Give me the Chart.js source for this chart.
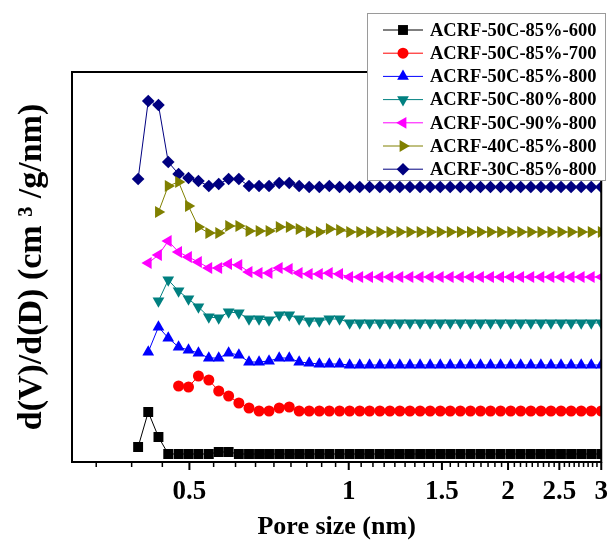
<!DOCTYPE html>
<html>
<head>
<meta charset="utf-8">
<script src="https://cdn.jsdelivr.net/npm/chart.js@4.4.1/dist/chart.umd.min.js"></script>
<style>
  html, body { margin: 0; padding: 0; background: #fff; }
  #caixa { width: 614px; height: 543px; }
</style>
</head>
<body>
<div id="caixa"><canvas id="grafico"></canvas></div>
<script>
const fonte = "'Liberation Serif', 'Times New Roman', serif";

// eixo x (nm), passos iguais em escala log
const tamanhoPoro = [0.400, 0.418, 0.437, 0.456, 0.477, 0.498, 0.520, 0.544, 0.568, 0.593,
  0.620, 0.648, 0.677, 0.707, 0.739, 0.772, 0.806, 0.842, 0.880, 0.919,
  0.961, 1.004, 1.049, 1.095, 1.145, 1.196, 1.249, 1.305, 1.364, 1.425,
  1.489, 1.555, 1.625, 1.698, 1.774, 1.853, 1.936, 2.023, 2.113, 2.208,
  2.307, 2.410, 2.518, 2.631, 2.749, 2.872, 3.000];

// curvas deslocadas na vertical (unidade arbitraria)
const amostra600 = [15, 50, 25, 8, 8, 8, 8, 8, 10, 10,
  8, 8, 8, 8, 8, 8, 8, 8, 8, 8,
  8, 8, 8, 8, 8, 8, 8, 8, 8, 8,
  8, 8, 8, 8, 8, 8, 8, 8, 8, 8,
  8, 8, 8, 8, 8, 8, 8];
const amostra700 = [null, null, null, null, 76, 75, 86, 82, 71, 66,
  59, 54, 51, 51, 54, 55, 51, 51, 51, 51,
  51, 51, 51, 51, 51, 51, 51, 51, 51, 51,
  51, 51, 51, 51, 51, 51, 51, 51, 51, 51,
  51, 51, 51, 51, 51, 51, 51];
const amostra800 = [null, 110, 135, 124, 115, 112, 109, 104, 104, 109,
  107, 100, 100, 101, 104, 104, 100, 99, 98, 98,
  98, 97, 97, 97, 97, 97, 97, 97, 97, 97,
  97, 97, 97, 97, 97, 97, 97, 97, 97, 97,
  97, 97, 97, 97, 97, 97, 97];
const amostra80 = [null, null, 161, 182, 171, 163, 155, 145, 144, 150,
  149, 143, 143, 142, 147, 147, 143, 141, 141, 143,
  143, 139, 139, 139, 139, 139, 139, 139, 139, 139,
  139, 139, 139, 139, 139, 139, 139, 139, 139, 139,
  139, 139, 139, 139, 139, 139, 139];
const amostra90 = [null, 199, 207, 221, 210, 205, 200, 194, 194, 198,
  197, 190, 189, 189, 194, 193, 189, 188, 188, 189,
  188, 185, 185, 185, 185, 185, 185, 185, 185, 185,
  185, 185, 185, 185, 185, 185, 185, 185, 185, 185,
  185, 185, 185, 185, 185, 185, 185];
const amostra40C = [null, null, 250, 276, 280, 256, 235, 229, 229, 236,
  236, 231, 231, 231, 235, 235, 233, 230, 230, 233,
  232, 230, 230, 230, 230, 230, 230, 230, 230, 230,
  230, 230, 230, 230, 230, 230, 230, 230, 230, 230,
  230, 230, 230, 230, 230, 230, 230];
const amostra30C = [283, 361, 357, 300, 288, 284, 281, 276, 278, 283,
  283, 276, 276, 276, 279, 279, 276, 275, 275, 276,
  275, 275, 275, 275, 275, 275, 275, 275, 275, 275,
  275, 275, 275, 275, 275, 275, 275, 275, 275, 275,
  275, 275, 275, 275, 275, 275, 275];

const nomes = ['ACRF-50C-85%-600', 'ACRF-50C-85%-700', 'ACRF-50C-85%-800',
  'ACRF-50C-80%-800', 'ACRF-50C-90%-800', 'ACRF-40C-85%-800', 'ACRF-30C-85%-800'];
const ticksPrincipais = [0.5, 1, 1.5, 2, 2.5, 3];
const secundariosPorIntervalo = 8;

const series = [amostra600, amostra700, amostra800, amostra80, amostra90, amostra40C, amostra30C];
const cores = ['#000000', '#ff0000', '#0000ff', '#008080', '#ff00ff', '#808000', '#000080'];
const simbolos = [
  { estilo: 'rect', giro: 0, raio: 7 },
  { estilo: 'circle', giro: 0, raio: 5.5 },
  { estilo: 'triangle', giro: 0, raio: 6.8 },
  { estilo: 'triangle', giro: 180, raio: 6.8 },
  { estilo: 'triangle', giro: -90, raio: 6.8 },
  { estilo: 'triangle', giro: 90, raio: 6.8 },
  { estilo: 'rectRot', giro: 0, raio: 6.3 }
];

const conjuntos = series.map((valores, i) => ({
  label: nomes[i],
  data: tamanhoPoro.map((x, j) => ({ x: x, y: valores[j] })),
  borderColor: cores[i],
  backgroundColor: cores[i],
  borderWidth: 1,
  pointStyle: simbolos[i].estilo,
  pointRotation: simbolos[i].giro,
  pointRadius: simbolos[i].raio,
  pointBackgroundColor: cores[i],
  pointBorderColor: cores[i],
  pointBorderWidth: 0,
  tension: 0
}));

const moldura = {
  id: 'moldura',
  afterDatasetsDraw(chart) {
    const ctx = chart.ctx;
    const a = chart.chartArea;
    const x = chart.scales.x;
    ctx.save();
    ctx.strokeStyle = '#000';
    ctx.lineWidth = 2;
    ctx.strokeRect(a.left, a.top, a.right - a.left, a.bottom - a.top);
    ctx.beginPath();
    ticksPrincipais.forEach(v => {
      const px = x.getPixelForValue(v);
      ctx.moveTo(px, a.bottom);
      ctx.lineTo(px, a.bottom + 8);
    });
    ctx.stroke();
    ctx.lineWidth = 1.5;
    ctx.beginPath();
    const passo = 0.5 / (secundariosPorIntervalo + 1);
    for (let k = -5; k < 50; k++) {
      if (k % (secundariosPorIntervalo + 1) === 0) continue;
      const v = 0.5 + k * passo;
      if (v <= 0.3 || v >= 3) continue;
      const px = x.getPixelForValue(v);
      ctx.moveTo(px, a.bottom);
      ctx.lineTo(px, a.bottom + 5);
    }
    ctx.stroke();
    ctx.restore();
  }
};

const legenda = {
  id: 'legenda',
  afterDraw(chart) {
    const ctx = chart.ctx;
    ctx.save();
    ctx.fillStyle = '#fff';
    ctx.fillRect(367, 13, 238, 167);
    ctx.strokeStyle = '#9a9a9a';
    ctx.lineWidth = 1;
    ctx.strokeRect(367.5, 13.5, 238, 167);
    chart.data.datasets.forEach((ds, i) => {
      const y = 30 + i * 23.2;
      ctx.strokeStyle = ds.borderColor;
      ctx.lineWidth = 1;
      ctx.beginPath();
      ctx.moveTo(383, y);
      ctx.lineTo(423, y);
      ctx.stroke();
      ctx.fillStyle = ds.pointBackgroundColor;
      Chart.helpers.drawPoint(ctx, {
        pointStyle: ds.pointStyle,
        rotation: ds.pointRotation,
        radius: ds.pointRadius,
        borderWidth: 0
      }, 403, y);
      ctx.fillStyle = '#000';
      ctx.font = 'bold 18.5px ' + fonte;
      ctx.textBaseline = 'middle';
      ctx.fillText(ds.label, 430, y + 1);
    });
    ctx.restore();
  }
};

new Chart(document.getElementById('grafico'), {
  type: 'line',
  data: { datasets: conjuntos },
  options: {
    responsive: true,
    maintainAspectRatio: false,
    animation: false,
    devicePixelRatio: 1,
    layout: { padding: { top: 72, right: 6, left: 12, bottom: 0 } },
    plugins: {
      legend: { display: false },
      title: { display: false },
      tooltip: { enabled: false }
    },
    scales: {
      x: {
        type: 'logarithmic',
        min: 0.3,
        max: 3,
        grid: { display: false },
        border: { display: false },
        afterBuildTicks: (eixo) => {
          eixo.ticks = ticksPrincipais.map(v => ({ value: v }));
        },
        afterFit: (eixo) => { eixo.height = 81; },
        ticks: {
          autoSkip: false,
          maxRotation: 0,
          padding: 6,
          color: '#000',
          font: { family: fonte, size: 27, weight: 'bold' },
          callback: (v) => String(v)
        },
        title: {
          display: true,
          text: 'Pore size (nm)',
          color: '#000',
          padding: 0,
          font: { family: fonte, size: 26, weight: 'bold' }
        }
      },
      y: {
        min: 0,
        max: 390,
        grid: { display: false },
        border: { display: false },
        ticks: { display: false },
        afterFit: (eixo) => { eixo.width = 60; },
        title: {
          display: true,
          text: 'd(V)/d(D) (cm ³ /g/nm)',
          color: '#000',
          padding: 0,
          font: { family: fonte, size: 34, weight: 'bold' }
        }
      }
    }
  },
  plugins: [moldura, legenda]
});
</script>
</body>
</html>
